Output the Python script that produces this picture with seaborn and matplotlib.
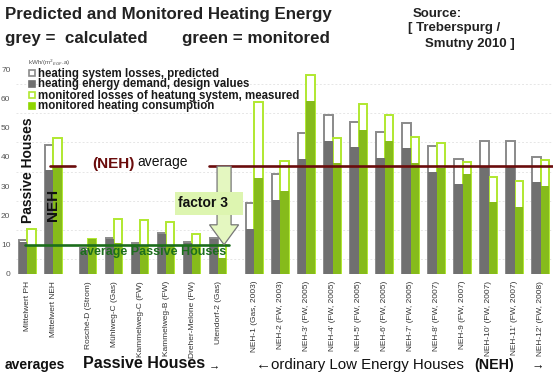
import matplotlib.pyplot as plt
import matplotlib.patches as mpatches
import seaborn as sns
import pandas as pd
import numpy as np

# buildings (averages, passive houses, ordinary low energy houses)
labels_avg = ["Mittelwert PH", "Mittelwert NEH"]
labels_ph = ["Rosché-D (Strom)", "Mühlweg-C (Gas)", "Kammelweg-C (FW)",
             "Kammelweg-B (FW)", "Dreher-Melone (FW)", "Utendorf-2 (Gas)"]
labels_neh = ["NEH-1 (Gas, 2003)", "NEH-2 (FW, 2003)", "NEH-3' (FW, 2005)",
              "NEH-4' (FW, 2005)", "NEH-5' (FW, 2005)", "NEH-6' (FW, 2005)",
              "NEH-7' (FW, 2005)", "NEH-8' (FW, 2007)", "NEH-9 (FW, 2007)",
              "NEH-10' (FW, 2007)", "NEH-11' (FW, 2007)", "NEH-12' (FW, 2008)"]

# kWh/(m2 EGF.a)
calc_total = [11.7, 44.0, 8.8, 12.4, 10.6, 14.1, 11.0, 12.2,
              24.1, 34.1, 48.2, 54.3, 52.0, 48.6, 51.4, 43.7, 39.1, 45.5, 45.5, 39.8]
calc_design = [11.0, 35.5, 8.3, 12.0, 10.2, 13.8, 10.5, 11.8,
               15.2, 25.3, 39.4, 45.5, 43.2, 39.7, 42.9, 34.9, 30.6, 37.0, 37.0, 31.3]
mon_total = [15.5, 46.6, 12.0, 18.8, 18.4, 17.7, 13.6, 9.9,
             58.8, 38.6, 68.1, 46.6, 58.0, 54.2, 46.9, 44.8, 38.3, 33.2, 31.7, 38.9]
mon_heating = [9.8, 36.6, 11.8, 10.6, 9.8, 9.5, 10.0, 5.4,
               32.7, 28.3, 59.2, 38.0, 49.1, 45.4, 38.0, 36.1, 34.1, 24.7, 23.0, 30.1]

avg_neh = 36.8
avg_ph = 9.9

GAP = 0.35
pos = ([i for i in range(len(labels_avg))]
       + [len(labels_avg) + GAP - 0.02 + i for i in range(len(labels_ph))]
       + [len(labels_avg) + len(labels_ph) + 2 * GAP + 0.03 + i for i in range(len(labels_neh))])
labels = labels_avg + labels_ph + labels_neh
n = len(labels)

df = pd.DataFrame({
    "pos": pos * 2,
    "kind": ["calc"] * n + ["mon"] * n,
    "total": calc_total + mon_total,
    "part": calc_design + mon_heating,
})

GREY = "#707070"
GREY_EDGE = "#8a8a8a"
GREEN = "#8fd600"
GREEN_EDGE = "#b0e830"
DARKRED = "#6a0c0c"
DARKGREEN = "#1c6e1c"

sns.set_theme(style="white")
plt.rcParams['font.family'] = ['Liberation Sans', 'DejaVu Sans']

fig = plt.figure(figsize=(5.53, 3.72), dpi=100)
ax = fig.add_axes([16 / 553, (372 - 274) / 372, (553 - 16) / 553, (274 - 69) / 372])

for yy in [5, 15, 25, 35, 45, 55, 65]:
    ax.axhline(yy, color="#e6e6e6", lw=0.7, ls=(0, (2, 2)), zorder=0)

# outlined bars = total (losses on top of demand)
n0 = len(ax.patches)
sns.barplot(data=df, x="pos", y="total", hue="kind", hue_order=["calc", "mon"],
            palette={"calc": GREY_EDGE, "mon": GREEN_EDGE}, native_scale=True,
            width=0.64, fill=False, linewidth=1.4, errorbar=None, legend=False, ax=ax)
for p in ax.patches[n0:]:
    p.set_facecolor("white")
    p.set_zorder(2)

# filled bars = demand / consumption
n1 = len(ax.patches)
sns.barplot(data=df, x="pos", y="part", hue="kind", hue_order=["calc", "mon"],
            palette={"calc": GREY, "mon": GREEN}, native_scale=True,
            width=0.64, linewidth=0, errorbar=None, legend=False, ax=ax)
for p in ax.patches[n1:]:
    p.set_zorder(3)

ax.set_xlim(-0.442, 20.21)
ax.set_ylim(0, 70)
ax.set_yticks(range(0, 71, 10))
ax.set_xticks(pos)
ax.set_xticklabels(labels, rotation=90, fontsize=6.0, color="#333333")
ax.tick_params(axis="y", labelsize=6, colors="#555555", length=0, pad=4)
ax.tick_params(axis="x", length=0, pad=5)
ax.set_xlabel("")
ax.set_ylabel("")
for s in ax.spines.values():
    s.set_visible(False)

# average lines
ax.plot([0.87, 1.83], [avg_neh, avg_neh], color=DARKRED, lw=1.9, zorder=5)
ax.plot([6.98, 20.21], [avg_neh, avg_neh], color=DARKRED, lw=1.9, zorder=5)
ax.plot([-0.1, 7.75], [avg_ph, avg_ph], color=DARKGREEN, lw=1.9, zorder=5)

# factor 3 arrow
arr = mpatches.FancyArrow(7.56, avg_neh, 0, -(avg_neh - 10.0), width=0.54, head_width=1.12,
                          head_length=6.8, length_includes_head=True,
                          fc="#e4f7c0", ec="#777777", lw=0.9, zorder=6)
ax.add_patch(arr)

def fx(px):
    return px / 553

def fy(py):
    return 1 - py / 372

fig.patches.append(mpatches.Rectangle((fx(175), fy(215)), 68 / 553, 23 / 372,
                                      transform=fig.transFigure, fc="#ddf5b0",
                                      ec="none", zorder=7))
fig.text(fx(203), fy(203), "factor 3", fontsize=10, fontweight="bold",
         ha="center", va="center", color="#111111", zorder=8)

# titles
fig.text(fx(5), fy(18.5), "Predicted and Monitored Heating Energy", fontsize=12.2,
         fontweight="bold", color="#222222", va="baseline")
fig.text(fx(5), fy(43.5), "grey =  calculated", fontsize=12.2,
         fontweight="bold", color="#222222", va="baseline")
fig.text(fx(182), fy(43.5), "green = monitored", fontsize=12.2,
         fontweight="bold", color="#222222", va="baseline")
fig.text(fx(413), fy(17), "Source:", fontsize=9.5, fontweight="bold",
         color="#222222", va="baseline")
fig.text(fx(408), fy(31.5), "[ Treberspurg /", fontsize=9.5, fontweight="bold",
         color="#222222", va="baseline")
fig.text(fx(425), fy(47.5), "Smutny 2010 ]", fontsize=9.5, fontweight="bold",
         color="#222222", va="baseline")

fig.text(fx(28), fy(63), r"kWh/(m$^2$$_{EGF}$.a)", fontsize=4.5, color="#555555", va="center")

# legend
leg_items = [("heating system losses, predicted", "white", GREY_EDGE),
             ("heating energy demand, design values", GREY, GREY),
             ("monitored losses of heatung system, measured", "white", GREEN_EDGE),
             ("monitored heating consumption", GREEN, GREEN)]
for i, (lab, fc, ec) in enumerate(leg_items):
    base = 76.5 + i * 11.0
    fig.patches.append(mpatches.Rectangle((fx(28.5), fy(base - 0.5)), 6 / 553, 6 / 372,
                                          transform=fig.transFigure, fc=fc, ec=ec,
                                          lw=1.2, zorder=7))
    fig.text(fx(38), fy(base), lab, fontsize=8.3, fontweight="bold",
             color="#1a1a1a", va="baseline")

# annotations in chart
fig.text(fx(28), fy(170), "Passive Houses", fontsize=10, fontweight="bold",
         rotation=90, ha="center", va="center", color="#111111")
fig.text(fx(53), fy(205), "NEH", fontsize=11, fontweight="bold",
         rotation=90, ha="center", va="center", color="#111111", zorder=9)
fig.text(fx(92), fy(164), "(NEH)", fontsize=11, fontweight="bold",
         color=DARKRED, va="center")
fig.text(fx(137), fy(162), "average", fontsize=10, color="#111111", va="center")
fig.text(fx(80), fy(252), "average Passive Houses", fontsize=9, fontweight="bold",
         color=DARKGREEN, va="center", zorder=9)

# bottom group labels
fig.text(fx(5), fy(368.5), "averages", fontsize=10, fontweight="bold",
         color="#111111", va="baseline")
fig.text(fx(83), fy(368.5), "Passive Houses", fontsize=11.5, fontweight="bold",
         color="#111111", va="baseline")
fig.text(fx(209), fy(368), "→", fontsize=8, fontweight="bold", color="#111111", va="baseline")
fig.text(fx(256), fy(368.5), "←ordinary Low Energy Houses", fontsize=10.8,
         color="#111111", va="baseline")
fig.text(fx(474), fy(368.5), "(NEH)", fontsize=10.3, fontweight="bold",
         color="#111111", va="baseline")
fig.text(fx(531), fy(369.5), "→", fontsize=9, color="#111111", va="baseline")

fig.savefig("out.png", dpi=100)
